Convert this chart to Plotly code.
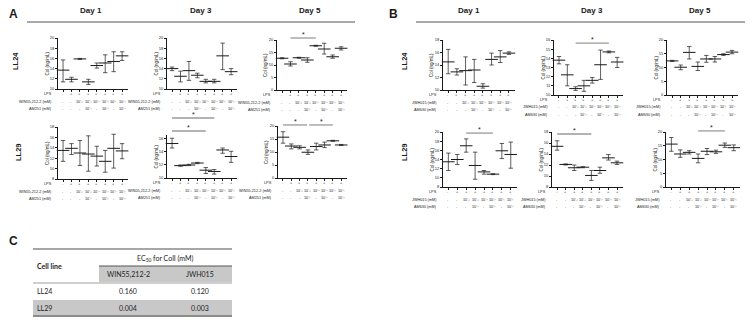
import plotly.graph_objects as go

W, H = 752, 325

# ---------------- data ----------------
CATS = [1, 2, 3, 4, 5, 6, 7, 8]
LPS_ROW = ["-", "+", "+", "+", "+", "+", "+", "+"]
AGONIST_ROW = ["-", "-", "10⁻³", "10⁻³", "10⁻²", "10⁻²", "10⁻¹", "10⁻¹"]
ANTAGONIST_ROW = ["-", "-", "-", "10⁻²", "-", "10⁻²", "-", "10⁻²"]
DAYS = ["Day 1", "Day 3", "Day 5"]
CELL_LINES = ["LL24", "LL29"]

# Panel A : WIN55,212-2 / AM251
A_LL24_D1_MEAN = [13.7, 11.9, 15.9, 11.4, 14.6, 15.1, 15.4, 16.5]
A_LL24_D1_HI = [15.7, 12.3, 16.0, 11.9, 15.1, 16.7, 17.3, 17.3]
A_LL24_D1_LO = [11.4, 11.4, 15.8, 10.9, 14.1, 13.2, 13.4, 15.6]

A_LL24_D3_MEAN = [14.0, 12.5, 13.6, 12.7, 11.5, 11.5, 16.5, 13.4]
A_LL24_D3_HI = [14.3, 13.5, 15.4, 13.1, 11.9, 11.9, 19.0, 14.0]
A_LL24_D3_LO = [13.6, 11.4, 11.7, 12.2, 11.2, 11.2, 13.8, 12.8]

A_LL24_D5_MEAN = [12.7, 10.4, 12.9, 12.0, 17.7, 16.4, 13.3, 16.7]
A_LL24_D5_HI = [12.9, 11.3, 13.1, 12.9, 17.9, 18.7, 14.0, 17.3]
A_LL24_D5_LO = [12.5, 9.6, 12.7, 11.1, 17.5, 14.4, 12.7, 16.0]

A_LL29_D1_MEAN = [13.5, 13.9, 13.0, 12.8, 12.4, 11.4, 13.9, 13.4]
A_LL29_D1_HI = [15.4, 14.8, 15.4, 16.3, 14.3, 13.5, 16.6, 14.8]
A_LL29_D1_LO = [11.4, 12.7, 10.6, 9.5, 10.5, 9.3, 10.1, 11.9]

A_LL29_D3_MEAN = [15.3, 11.9, 12.0, 12.3, 11.2, 11.0, 14.3, 13.3]
A_LL29_D3_HI = [16.1, 12.0, 12.1, 12.4, 11.6, 11.3, 14.6, 14.1]
A_LL29_D3_LO = [14.6, 11.8, 11.9, 12.2, 10.7, 10.6, 13.8, 12.4]

A_LL29_D5_MEAN = [15.7, 12.3, 11.8, 9.9, 12.1, 12.7, 14.3, 12.7]
A_LL29_D5_HI = [17.8, 13.1, 12.4, 10.8, 13.4, 13.8, 14.5, 12.9]
A_LL29_D5_LO = [13.4, 11.2, 11.2, 9.1, 10.8, 11.7, 14.1, 12.5]

# Panel B : JWH015 / AM630
B_LL24_D1_MEAN = [14.5, 12.9, 13.1, 13.2, 10.6, 14.9, 15.3, 15.9]
B_LL24_D1_HI = [16.5, 13.4, 15.3, 14.9, 11.0, 15.9, 16.3, 16.1]
B_LL24_D1_LO = [12.6, 12.4, 10.8, 11.2, 10.3, 14.0, 14.4, 15.7]

B_LL24_D3_MEAN = [13.8, 12.2, 10.7, 11.0, 11.6, 13.3, 14.7, 13.6]
B_LL24_D3_HI = [14.2, 13.3, 10.9, 11.6, 11.9, 14.9, 14.8, 14.1]
B_LL24_D3_LO = [13.4, 11.0, 10.5, 10.4, 11.3, 11.7, 14.6, 13.0]

B_LL24_D5_MEAN = [12.4, 10.1, 15.5, 10.4, 13.1, 13.1, 14.7, 15.6]
B_LL24_D5_HI = [12.6, 10.9, 17.6, 12.0, 14.4, 14.0, 15.0, 16.2]
B_LL24_D5_LO = [12.2, 9.2, 13.1, 8.9, 11.9, 12.0, 14.4, 15.0]

B_LL29_D1_MEAN = [13.5, 14.0, 17.0, 12.7, 11.3, 10.8, 15.9, 15.1]
B_LL29_D1_HI = [15.4, 15.1, 18.5, 15.6, 11.6, 10.9, 17.5, 17.8]
B_LL29_D1_LO = [11.6, 12.9, 15.6, 9.7, 10.8, 10.7, 14.2, 12.1]

B_LL29_D3_MEAN = [15.4, 12.1, 11.5, 11.6, 10.1, 11.0, 13.3, 12.4]
B_LL29_D3_HI = [16.4, 12.2, 12.0, 11.7, 11.0, 11.6, 13.9, 12.7]
B_LL29_D3_LO = [14.7, 12.0, 11.0, 11.5, 9.2, 10.5, 12.9, 12.1]

B_LL29_D5_MEAN = [15.6, 12.0, 12.6, 10.4, 13.0, 12.8, 15.2, 14.3]
B_LL29_D5_HI = [18.0, 13.5, 13.2, 12.0, 14.0, 13.4, 16.0, 15.3]
B_LL29_D5_LO = [13.0, 10.8, 12.0, 8.8, 11.8, 12.2, 14.4, 13.2]

# significance brackets: (panel index, first category, last category)
SIG_BARS = [(3, 2, 5), (5, 1, 6), (5, 1, 5), (6, 1, 3.9), (6, 4.15, 7),
            (8, 3, 7), (10, 3, 6), (11, 1, 5), (12, 4, 7)]

# table C
TABLE_ROWS = ["LL24", "LL29"]
EC50_WIN = ["0.160", "0.004"]
EC50_JWH = ["0.120", "0.003"]

# ---------------- layout (pixel geometry) ----------------
PANELS = [
    ((A_LL24_D1_MEAN, A_LL24_D1_HI, A_LL24_D1_LO), (58, 128, 38, 89), [10, 20], 2, "WIN55,212-2 (mM)", "AM251 (mM)"),
    ((A_LL24_D3_MEAN, A_LL24_D3_HI, A_LL24_D3_LO), (167, 237, 38, 89), [10, 20], 2, "WIN55,212-2 (mM)", "AM251 (mM)"),
    ((A_LL24_D5_MEAN, A_LL24_D5_HI, A_LL24_D5_LO), (277, 347, 40, 90), [0, 20], 5, "WIN55,212-2 (mM)", "AM251 (mM)"),
    ((A_LL29_D1_MEAN, A_LL29_D1_HI, A_LL29_D1_LO), (58, 128, 127, 179), [8, 18], 2, "WIN55,212-2 (mM)", "AM251 (mM)"),
    ((A_LL29_D3_MEAN, A_LL29_D3_HI, A_LL29_D3_LO), (167, 237, 135, 178), [10, 16.6], 2, "WIN55,212-2 (mM)", "AM251 (mM)"),
    ((A_LL29_D5_MEAN, A_LL29_D5_HI, A_LL29_D5_LO), (278, 347, 126, 178), [0, 20], 5, "WIN55,212-2 (mM)", "AM251 (mM)"),
    ((B_LL24_D1_MEAN, B_LL24_D1_HI, B_LL24_D1_LO), (443, 515, 40, 90), [10, 18], 2, "JWH015 (mM)", "AM630 (mM)"),
    ((B_LL24_D3_MEAN, B_LL24_D3_HI, B_LL24_D3_LO), (554, 623, 40, 95), [10, 16], 1, "JWH015 (mM)", "AM630 (mM)"),
    ((B_LL24_D5_MEAN, B_LL24_D5_HI, B_LL24_D5_LO), (667, 738, 40, 95), [0, 20], 5, "JWH015 (mM)", "AM630 (mM)"),
    ((B_LL29_D1_MEAN, B_LL29_D1_HI, B_LL29_D1_LO), (443, 517, 132, 187), [8, 20], 2, "JWH015 (mM)", "AM630 (mM)"),
    ((B_LL29_D3_MEAN, B_LL29_D3_HI, B_LL29_D3_LO), (552, 623, 132, 187), [8, 18], 2, "JWH015 (mM)", "AM630 (mM)"),
    ((B_LL29_D5_MEAN, B_LL29_D5_HI, B_LL29_D5_LO), (666, 740, 132, 187), [0, 20], 5, "JWH015 (mM)", "AM630 (mM)"),
]

FONT = "Liberation Sans, Arial, sans-serif"
TFONT = "Lato, Open Sans, sans-serif"
INK = "#1a1a1a"


def px(x):
    return x / W


def py(y):
    return 1 - y / H


def ann(text, x, y, size, xref="paper", yref="paper", xanchor="center", yanchor="middle",
        family=FONT, color=INK, **kw):
    d = dict(text=text, x=x, y=y, xref=xref, yref=yref, xanchor=xanchor, yanchor=yanchor,
             showarrow=False, font=dict(size=size, family=family, color=color))
    d.update(kw)
    return d


fig = go.Figure()
layout = dict(width=W, height=H, margin=dict(l=0, r=0, t=0, b=0),
              paper_bgcolor="white", plot_bgcolor="white", showlegend=False)
annotations = []
shapes = []

for i, (data, box, yr, dt, ag, ant) in enumerate(PANELS, start=1):
    mean, hi, lo = data
    x0, x1, top, bot = box
    xa = "x" if i == 1 else f"x{i}"
    ya = "y" if i == 1 else f"y{i}"
    xk = "xaxis" if i == 1 else f"xaxis{i}"
    yk = "yaxis" if i == 1 else f"yaxis{i}"
    fig.add_trace(go.Scatter(
        x=CATS, y=mean, xaxis=xa, yaxis=ya, mode="markers",
        marker=dict(symbol="line-ew", size=9, line=dict(width=1.0, color=INK)),
        error_y=dict(type="data", symmetric=False,
                     array=[h - m for h, m in zip(hi, mean)],
                     arrayminus=[m - l for m, l in zip(mean, lo)],
                     thickness=0.7, width=2.2, color=INK),
        cliponaxis=False, hoverinfo="skip"))
    layout[xk] = dict(domain=[px(x0), px(x1)], anchor=ya, range=[0.4, 8.7],
                      tickvals=CATS, showticklabels=False, ticks="outside",
                      ticklen=2, tickwidth=0.6, tickcolor=INK, showline=True,
                      linecolor=INK, linewidth=0.8, showgrid=False, zeroline=False,
                      fixedrange=True)
    layout[yk] = dict(domain=[py(bot), py(top)], anchor=xa, range=yr, dtick=dt,
                      tick0=0, ticks="outside", ticklen=2, tickwidth=0.6,
                      tickcolor=INK, showline=True, linecolor=INK, linewidth=0.8,
                      showgrid=False, zeroline=False,
                      tickfont=dict(size=4, family=FONT, color=INK),
                      fixedrange=True, automargin=False)
    annotations.append(ann("Col (ng/mL)", px(x0 - 11), py((top + bot) / 2), 4.5, textangle=-90))
    rows = [("LPS", LPS_ROW, 5), (ag, AGONIST_ROW, 12.5), (ant, ANTAGONIST_ROW, 20)]
    for label, vals, off in rows:
        annotations.append(ann(label, px(x0 - 4), py(bot + off), 3.8, xanchor="right"))
        for c, v in zip(CATS, vals):
            annotations.append(ann(v, c, py(bot + off), 3.8, xref=xa))

# significance brackets
SIG_Y = {3: 1.04, 6: 1.02, 8: 0.945, 10: 0.98, 11: 0.964, 12: 1.02}
used5 = 0
for (p, a, b) in SIG_BARS:
    xa = "x" if p == 1 else f"x{p}"
    yd = ("y" if p == 1 else f"y{p}") + " domain"
    if p == 5:
        yv = 1.395 if used5 == 0 else 1.093
        used5 += 1
    else:
        yv = SIG_Y[p]
    shapes.append(dict(type="line", xref=xa, yref=yd, x0=a, x1=b, y0=yv, y1=yv,
                       line=dict(color="#9a9a9a", width=1.3)))
    annotations.append(ann("*", (a + b) / 2, yv, 7, xref=xa, yref=yd, yanchor="bottom", yshift=-2))

# headers
for xc, d in zip([91, 201, 310], DAYS):
    annotations.append(ann(f"<b>{d}</b>", px(xc), py(10), 8))
for xc, d in zip([469, 592, 700], DAYS):
    annotations.append(ann(f"<b>{d}</b>", px(xc), py(10), 8))
shapes.append(dict(type="line", xref="paper", yref="paper", x0=px(27), x1=px(355),
                   y0=py(22), y1=py(22), line=dict(color="#555", width=1)))
shapes.append(dict(type="line", xref="paper", yref="paper", x0=px(416), x1=px(745),
                   y0=py(22), y1=py(22), line=dict(color="#555", width=1)))

for txt, xc, yc in [("A", 13, 14), ("B", 393, 14), ("C", 13, 241)]:
    annotations.append(ann(f"<b>{txt}</b>", px(xc), py(yc), 12))
for txt, xc, yc in [("LL24", 15, 61), ("LL29", 19, 152), ("LL24", 404, 61), ("LL29", 405, 152)]:
    annotations.append(ann(f"<b>{txt}</b>", px(xc), py(yc), 7.5, textangle=-90))

# table C
GRAY = "#c8c8c8"
shapes += [
    dict(type="rect", xref="paper", yref="paper", x0=px(99), x1=px(232), y0=py(266), y1=py(282),
         fillcolor=GRAY, line=dict(width=0), layer="below"),
    dict(type="rect", xref="paper", yref="paper", x0=px(33), x1=px(232), y0=py(300), y1=py(315),
         fillcolor=GRAY, line=dict(width=0), layer="below"),
    dict(type="line", xref="paper", yref="paper", x0=px(33), x1=px(232), y0=py(249), y1=py(249),
         line=dict(color="#888", width=1.5)),
    dict(type="line", xref="paper", yref="paper", x0=px(99), x1=px(232), y0=py(266), y1=py(266),
         line=dict(color="#555", width=1)),
    dict(type="line", xref="paper", yref="paper", x0=px(33), x1=px(232), y0=py(283), y1=py(283),
         line=dict(color="#888", width=0.8)),
    dict(type="line", xref="paper", yref="paper", x0=px(33), x1=px(232), y0=py(316), y1=py(316),
         line=dict(color="#666", width=1.5)),
]
annotations += [
    ann("EC<sub>50</sub> for ColI (mM)", px(165), py(258), 7, family=TFONT, color="#222"),
    ann("<b>Cell line</b>", px(35), py(266), 7, xanchor="left", family=TFONT, color="#222"),
    ann("WIN55,212-2", px(128), py(274), 7, family=TFONT, color="#222"),
    ann("JWH015", px(200), py(274), 7, family=TFONT, color="#222"),
]
for r, (name, w, j) in enumerate(zip(TABLE_ROWS, EC50_WIN, EC50_JWH)):
    yc = 291 + 17 * r
    annotations += [
        ann(name, px(35), py(yc), 7, xanchor="left", family=TFONT, color="#222"),
        ann(w, px(128), py(yc), 7, family=TFONT, color="#222"),
        ann(j, px(200), py(yc), 7, family=TFONT, color="#222"),
    ]

layout["annotations"] = annotations
layout["shapes"] = shapes
fig.update_layout(**layout)
fig.write_html("out.html")
